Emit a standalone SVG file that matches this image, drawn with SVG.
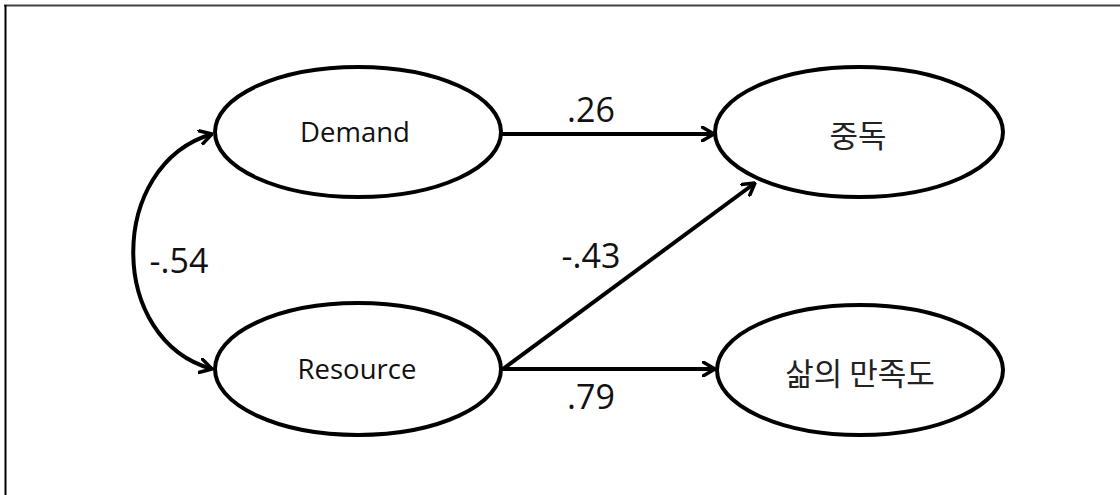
<svg xmlns="http://www.w3.org/2000/svg" width="1120" height="495" viewBox="0 0 1120 495">
<style>
.node{fill:#fff;stroke:#000;stroke-width:4}
.lbl{font-family:"Open Sans","Noto Sans CJK KR",sans-serif;font-size:27.5px;fill:#111;text-anchor:middle}
.kr{font-family:"Noto Sans CJK KR","Noto Sans",sans-serif;font-size:31px;fill:#222;text-anchor:middle}
.coef{font-family:"Open Sans","Liberation Sans",sans-serif;font-size:34px;fill:#111;text-anchor:middle}
.edge{fill:none;stroke:#000;stroke-width:4}
</style>
<defs>
<marker id="arr" viewBox="0 0 14 16" refX="13" refY="8" markerWidth="14" markerHeight="16" markerUnits="userSpaceOnUse" orient="auto-start-reverse">
<path d="M1,1 L13,8 L1,15" fill="none" stroke="#000" stroke-width="3.5" stroke-linecap="round" stroke-linejoin="round"/>
</marker>
</defs>
<rect width="1120" height="495" fill="#fff"/>
<g id="frame">
<line x1="4" y1="5.5" x2="1120" y2="5.5" stroke="#444" stroke-width="2"/>
<line x1="5.5" y1="5" x2="5.5" y2="495" stroke="#000" stroke-width="2"/>
</g>
<g id="connectors">
<path class="edge" d="M212,134 C107,165 107,340 212,369" marker-start="url(#arr)" marker-end="url(#arr)"/>
<line class="edge" x1="502" y1="134" x2="714" y2="134" marker-end="url(#arr)"/>
<line class="edge" x1="502" y1="369" x2="715" y2="369" marker-end="url(#arr)"/>
<line class="edge" x1="503" y1="369" x2="755" y2="183" marker-end="url(#arr)"/>
<text class="coef" x="591" y="122">.26</text>
<text class="coef" x="179" y="273">-.54</text>
<text class="coef" x="591" y="268">-.43</text>
<text class="coef" x="591" y="409">.79</text>
</g>
<g id="demand">
<ellipse class="node" cx="358" cy="132" rx="143" ry="65"/>
<text class="lbl" x="355" y="142">Demand</text>
</g>
<g id="resource">
<ellipse class="node" cx="358" cy="369" rx="143" ry="66"/>
<text class="lbl" x="357" y="379">Resource</text>
</g>
<g id="addiction">
<ellipse class="node" cx="859" cy="132" rx="144" ry="65"/>
<text class="kr" x="858" y="147">중독</text>
</g>
<g id="satisfaction">
<ellipse class="node" cx="860" cy="370" rx="143" ry="65"/>
<text class="kr" x="860" y="385">삶의 만족도</text>
</g>
</svg>
